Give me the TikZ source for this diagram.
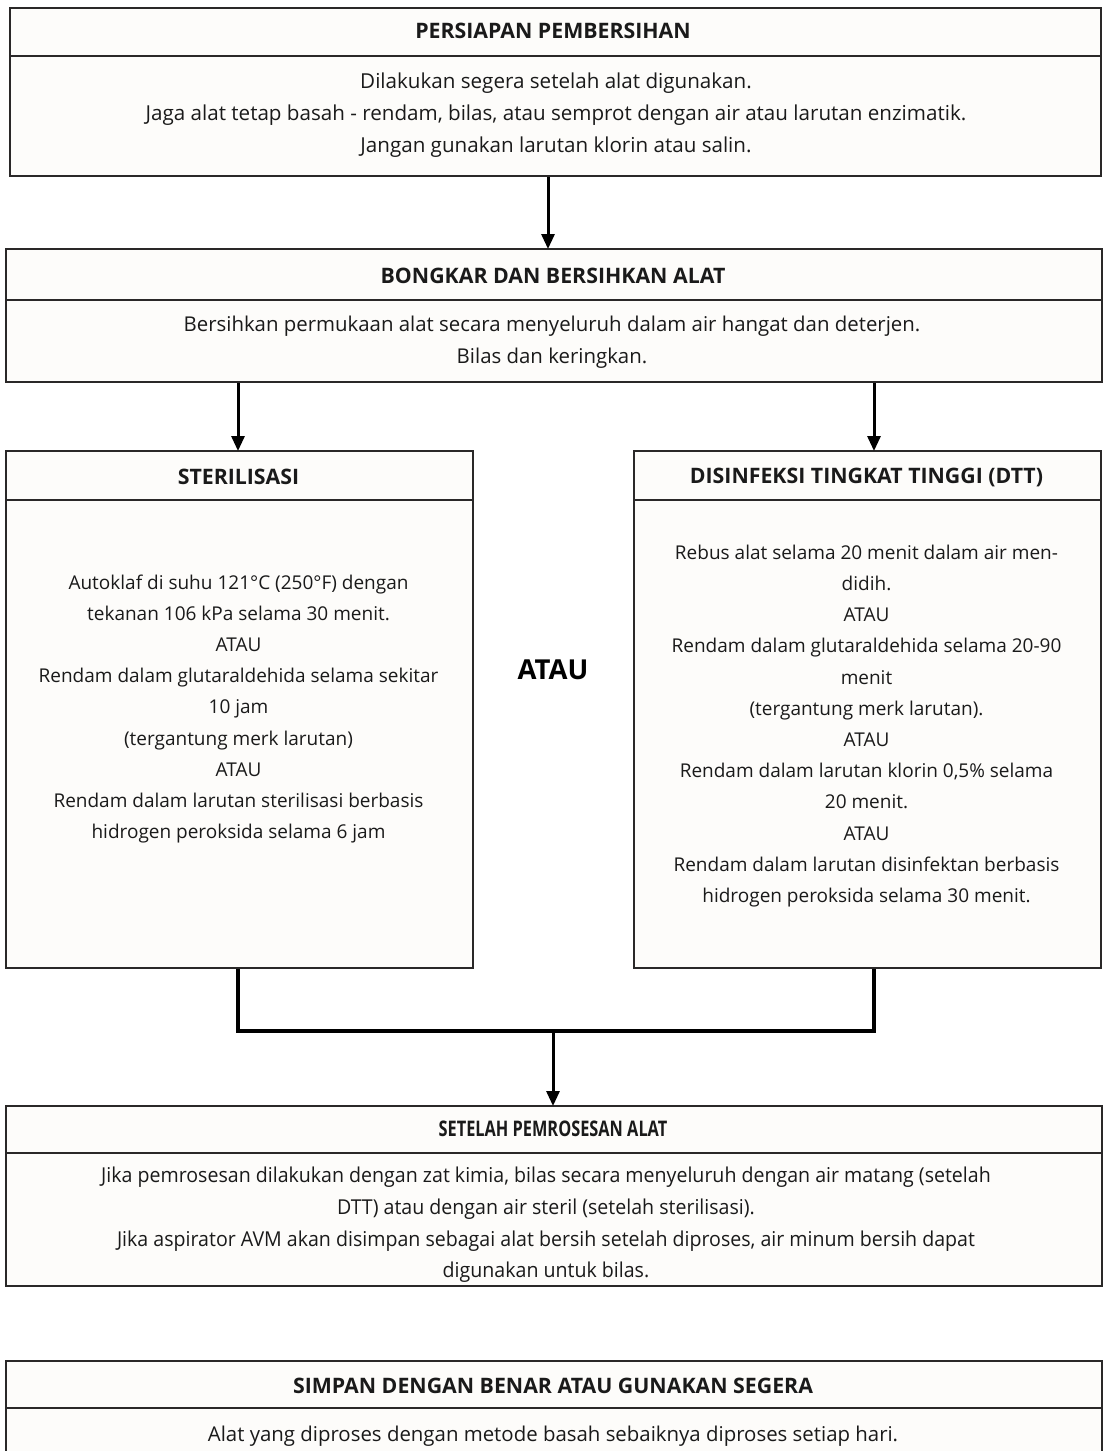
\documentclass[tikz,border=0pt]{standalone}
\usepackage{fontspec}
\setmainfont{Open Sans}
\newfontfamily\condfont[FakeStretch=0.955]{Open Sans}
\newfontfamily\condheadfont[FakeStretch=0.76]{Open Sans}
\usetikzlibrary{arrows.meta}
\definecolor{boxfill}{HTML}{FDFCFA}
\definecolor{boxline}{HTML}{2A2828}
\definecolor{txt}{HTML}{1A1A1A}
\tikzset{
  box/.style={draw=boxline, line width=2pt, fill=boxfill, rectangle, inner sep=0pt, anchor=north west},
  divider/.style={draw=boxline, line width=2pt},
  head/.style={font=\fontsize{21.3}{24}\selectfont\bfseries, text=txt, inner sep=0pt},
  body/.style={font=\fontsize{20.4}{31.5}\selectfont, text=txt, align=center, inner sep=0pt},
  sidebody/.style={font=\fontsize{19}{31.2}\selectfont, text=txt, align=center, inner sep=0pt},
  arr/.style={draw=black, line width=3pt, -{Triangle[length=15pt,width=13pt]}, shorten >=-1pt},
  merge/.style={draw=black, line width=4pt},
}
\begin{document}
\begin{tikzpicture}[x=1pt,y=-1pt]
\useasboundingbox (0,0) rectangle (1103,1451);
\clip (0,0) rectangle (1103,1451);
\fill[white] (0,0) rectangle (1103,1451);

% Box 1
\node[box, minimum width=1091pt, minimum height=168pt] (b1) at (9,7) {};
\draw[divider] (9,56) -- (1100,56);
\node[head] (h1) at (553,31) {PERSIAPAN PEMBERSIHAN};
\node[body, font=\fontsize{20.6}{32}\selectfont] (t1) at (556,115) {Dilakukan segera setelah alat digunakan.\\Jaga alat tetap basah - rendam, bilas, atau semprot dengan air atau larutan enzimatik.\\Jangan gunakan larutan klorin atau salin.};

% Box 2
\node[box, minimum width=1096pt, minimum height=133pt] (b2) at (5,248) {};
\draw[divider] (5,300) -- (1101,300);
\node[head] (h2) at (553,276) {BONGKAR DAN BERSIHKAN ALAT};
\node[body] (t2) at (552,342) {Bersihkan permukaan alat secara menyeluruh dalam air hangat dan deterjen.\\Bilas dan keringkan.};

% Box 3 (left)
\node[box, minimum width=467pt, minimum height=517pt] (b3) at (5,450) {};
\draw[divider] (5,500) -- (472,500);
\node[head] (h3) at (238.5,477) {STERILISASI};
\node[sidebody] (t3) at (238.5,709) {Autoklaf di suhu 121°C (250°F) dengan\\tekanan 106 kPa selama 30 menit.\\ATAU\\Rendam dalam glutaraldehida selama sekitar\\10 jam\\(tergantung merk larutan)\\ATAU\\Rendam dalam larutan sterilisasi berbasis\\hidrogen peroksida selama 6 jam};

% Box 4 (right)
\node[box, minimum width=467pt, minimum height=517pt] (b4) at (633,450) {};
\draw[divider] (633,500) -- (1100,500);
\node[head] (h4) at (866.5,477) {DISINFEKSI TINGKAT TINGGI (DTT)};
\node[sidebody] (t4) at (866.5,726) {Rebus alat selama 20 menit dalam air men-\\didih.\\ATAU\\Rendam dalam glutaraldehida selama 20-90\\menit\\(tergantung merk larutan).\\ATAU\\Rendam dalam larutan klorin 0,5\% selama\\20 menit.\\ATAU\\Rendam dalam larutan disinfektan berbasis\\hidrogen peroksida selama 30 menit.};

% Middle ATAU
\node[font=\fontsize{27.5}{30}\selectfont\bfseries, text=black, inner sep=0pt] (atau) at (553,670) {ATAU};

% Box 5
\node[box, minimum width=1096pt, minimum height=180pt] (b5) at (5,1105) {};
\draw[divider] (5,1153) -- (1101,1153);
\node[font=\condheadfont\bfseries\fontsize{21.5}{24}\selectfont, text=txt, inner sep=0pt] (h5) at (553,1129) {SETELAH PEMROSESAN ALAT};
\node[font=\condfont\fontsize{20.5}{31.7}\selectfont, text=txt, align=center, inner sep=0pt] (t5) at (546,1225) {Jika pemrosesan dilakukan dengan zat kimia, bilas secara menyeluruh dengan air matang (setelah\\DTT) atau dengan air steril (setelah sterilisasi).\\Jika aspirator AVM akan disimpan sebagai alat bersih setelah diproses, air minum bersih dapat\\digunakan untuk bilas.};

% Box 6
\node[box, minimum width=1096pt, minimum height=120pt] (b6) at (5,1360) {};
\draw[divider] (5,1408) -- (1101,1408);
\node[head] (h6) at (553,1386) {SIMPAN DENGAN BENAR ATAU GUNAKAN SEGERA};
\node[body] (t6) at (553,1436) {Alat yang diproses dengan metode basah sebaiknya diproses setiap hari.};

% Connectors
\coordinate (m) at (553,1031);
\draw[arr] ([xshift=-7.5pt]b1.south) -- ([xshift=-7.5pt]b1.south |- b2.north);
\draw[arr] ([xshift=-1.5pt]b3.north |- b2.south) -- ([xshift=-1.5pt]b3.north);
\draw[arr] ([xshift=6.5pt]b4.north |- b2.south) -- ([xshift=6.5pt]b4.north);
\draw[merge] ([xshift=-1.5pt]b3.south) |- (m) -| ([xshift=6.5pt]b4.south);
\draw[arr] ([yshift=2pt]m) -- (m |- b5.north);
\end{tikzpicture}
\end{document}
